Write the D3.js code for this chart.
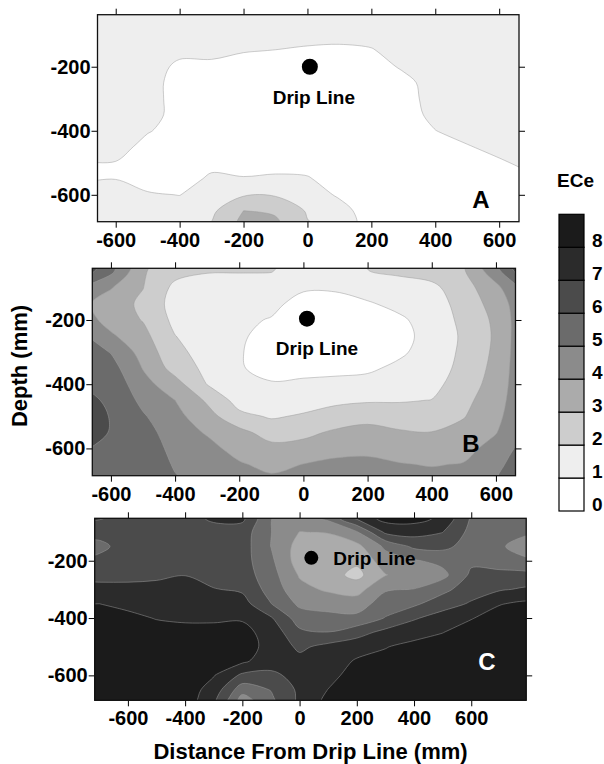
<!DOCTYPE html>
<html>
<head>
<meta charset="utf-8">
<script src="https://cdn.jsdelivr.net/npm/d3@7"></script>
<style>
  body { margin: 0; background: #fff; }
  text { font-family: "Liberation Sans", Arial, Helvetica, sans-serif; font-weight: bold; }
</style>
</head>
<body>
<div id="chart"></div>
<script>
// Grid of sampled ECe values (distance from drip line, depth), mm
var gridX = [-800, -700, -600, -500, -400, -300, -200, -100, 0, 100, 200, 300, 400, 500, 600, 700, 800];
var gridY = [0, -50, -100, -150, -200, -250, -300, -350, -400, -450, -500, -550, -600, -650, -700];

// Panel A: one row per depth in gridY, one value per column in gridX
var eceA = [
  [1.5, 1.5, 1.5, 1.5, 1.5, 1.5, 1.5, 1.5, 1.5, 1.5, 1.5, 1.5, 1.5, 1.5, 1.5, 1.5, 1.5],
  [1.5, 1.5, 1.5, 1.5, 1.5, 1.5, 1.5, 1.5, 1.5, 1.5, 1.5, 1.5, 1.5, 1.5, 1.5, 1.5, 1.5],
  [1.5, 1.5, 1.5, 1.5, 1.5, 1.5, 1.5, 1.47, 1.35, 1.3, 1.41, 1.5, 1.5, 1.5, 1.5, 1.5, 1.5],
  [1.5, 1.5, 1.5, 1.5, 1.27, 1.27, 1.06, 0.97, 0.85, 0.8, 0.91, 1.5, 1.5, 1.5, 1.5, 1.5, 1.5],
  [1.5, 1.5, 1.5, 1.5, 0.77, 0.77, 0.56, 0.5, 0.5, 0.5, 0.5, 1.15, 1.5, 1.5, 1.5, 1.5, 1.5],
  [1.5, 1.5, 1.5, 1.5, 0.5, 0.5, 0.5, 0.5, 0.5, 0.5, 0.5, 0.66, 1.5, 1.5, 1.5, 1.5, 1.5],
  [1.5, 1.5, 1.5, 1.5, 0.5, 0.5, 0.5, 0.5, 0.5, 0.5, 0.5, 0.5, 1.5, 1.5, 1.5, 1.5, 1.5],
  [1.5, 1.5, 1.5, 1.5, 0.5, 0.5, 0.5, 0.5, 0.5, 0.5, 0.5, 0.5, 1.3, 1.5, 1.5, 1.5, 1.5],
  [1.5, 1.5, 1.5, 1.09, 0.5, 0.5, 0.5, 0.5, 0.5, 0.5, 0.5, 0.5, 0.98, 1.42, 1.5, 1.5, 1.5],
  [1.5, 1.5, 1.5, 0.59, 0.5, 0.5, 0.5, 0.5, 0.5, 0.5, 0.5, 0.5, 0.5, 0.92, 1.35, 1.5, 1.5],
  [1.5, 0.98, 0.95, 0.5, 0.5, 0.69, 0.57, 0.65, 0.59, 0.5, 0.5, 0.5, 0.5, 0.5, 0.85, 1.3, 1.5],
  [1.5, 0.95, 0.98, 0.6, 0.5, 1.19, 1.07, 1.15, 1.09, 0.5, 0.5, 0.5, 0.5, 0.5, 0.5, 0.8, 1.1],
  [1.5, 1.3, 1.5, 1.1, 0.98, 1.5, 1.9, 1.9, 1.5, 0.87, 0.5, 0.5, 0.5, 0.5, 0.5, 0.5, 0.6],
  [1.5, 1.5, 1.5, 1.5, 1.48, 1.8, 3.0, 2.9, 1.9, 1.37, 0.5, 0.5, 0.5, 0.5, 0.5, 0.5, 0.5],
  [1.5, 1.5, 1.5, 1.5, 1.5, 2.1, 3.3, 3.2, 2.1, 1.6, 0.5, 0.5, 0.5, 0.5, 0.5, 0.5, 0.5]
];

// Panel B
var eceB = [
  [7.4, 7.2, 5.6, 3.2, 2.6, 2.5, 2.5, 2.3, 1.6, 1.7, 2.1, 2.4, 2.6, 3.05, 5.4, 7.2, 7.4],
  [7.0, 6.7, 5.2, 3.1, 2.3, 2.05, 2.05, 2.02, 1.5, 1.45, 1.98, 2.15, 2.4, 2.9, 4.6, 7.0, 7.2],
  [5.6, 5.1, 4.05, 3.02, 1.75, 1.5, 1.4, 1.5, 1.1, 1.1, 1.4, 1.6, 1.75, 2.6, 3.7, 5.5, 6.0],
  [4.6, 4.3, 3.5, 2.8, 1.6, 1.4, 1.25, 1.2, 0.7, 0.7, 0.9, 1.25, 1.5, 2.4, 3.4, 4.9, 5.2],
  [4.8, 4.6, 3.6, 2.95, 1.75, 1.4, 1.15, 0.95, 0.5, 0.5, 0.6, 0.85, 1.4, 2.25, 3.2, 4.9, 5.1],
  [5.4, 5.3, 4.15, 3.3, 2.02, 1.45, 1.1, 0.75, 0.4, 0.45, 0.5, 0.7, 1.35, 2.15, 3.15, 4.95, 5.1],
  [5.8, 5.7, 4.95, 3.6, 2.3, 1.55, 1.05, 0.7, 0.5, 0.55, 0.6, 0.85, 1.4, 2.2, 3.2, 4.95, 5.1],
  [6.0, 5.9, 5.4, 3.95, 2.6, 1.75, 1.05, 0.8, 0.75, 0.8, 0.85, 1.2, 1.5, 2.3, 3.3, 4.95, 5.1],
  [6.1, 6.0, 5.7, 4.35, 3.4, 1.97, 1.15, 1.05, 1.15, 1.2, 1.3, 1.6, 1.7, 2.5, 3.4, 4.95, 5.1],
  [6.4, 6.3, 5.85, 4.75, 4.0, 2.85, 1.6, 1.5, 1.6, 1.8, 1.9, 1.92, 2.02, 2.75, 3.55, 4.95, 5.1],
  [6.7, 6.6, 5.95, 5.1, 4.3, 3.4, 2.25, 1.9, 2.1, 2.4, 2.6, 2.5, 2.5, 2.95, 3.75, 4.9, 5.1],
  [6.6, 6.5, 5.95, 5.4, 4.5, 3.9, 3.3, 2.55, 2.75, 3.15, 3.4, 3.1, 3.02, 3.3, 3.95, 5.1, 5.4],
  [6.2, 6.1, 5.8, 5.6, 4.7, 4.3, 3.65, 3.3, 3.35, 3.7, 3.8, 3.6, 3.5, 3.7, 4.35, 5.5, 5.8],
  [5.9, 5.8, 5.6, 5.7, 4.9, 4.5, 4.1, 3.75, 4.02, 4.2, 4.2, 4.05, 3.95, 4.05, 4.7, 5.8, 6.0],
  [5.8, 5.7, 5.6, 5.7, 5.1, 4.6, 4.4, 4.2, 4.4, 4.5, 4.5, 4.4, 4.3, 4.3, 4.95, 6.0, 6.1]
];

// Panel C
var eceC = [
  [7.4, 7.4, 6.8, 6.5, 6.5, 7.4, 7.4, 5.3, 4.6, 5.4, 7.4, 8.6, 8.6, 7.9, 6.1, 5.8, 5.7],
  [7.1, 7.1, 6.6, 6.5, 6.5, 7.25, 7.25, 5.02, 4.5, 5.25, 7.25, 8.4, 8.4, 7.8, 5.9, 5.6, 5.5],
  [6.5, 6.4, 6.5, 6.5, 6.5, 6.5, 6.5, 5.02, 3.98, 4.05, 4.9, 7.2, 7.4, 7.02, 5.7, 5.3, 5.1],
  [5.6, 5.7, 6.5, 6.5, 6.5, 6.5, 6.45, 4.98, 3.6, 3.5, 3.7, 5.2, 6.2, 6.25, 5.6, 5.1, 4.6],
  [6.0, 6.3, 6.5, 6.55, 6.6, 6.5, 6.4, 5.2, 3.5, 3.3, 3.2, 4.5, 4.9, 5.3, 5.8, 5.5, 5.1],
  [6.7, 6.75, 6.75, 6.82, 6.98, 6.6, 6.5, 5.4, 3.9, 3.4, 2.7, 3.95, 4.5, 4.7, 6.2, 6.3, 6.3],
  [7.3, 7.25, 7.25, 7.3, 7.4, 7.05, 6.85, 5.6, 4.3, 3.85, 3.6, 4.9, 5.02, 5.7, 6.6, 6.9, 7.15],
  [7.9, 8.0, 7.75, 7.6, 7.6, 7.5, 7.4, 6.02, 4.8, 4.6, 4.5, 5.5, 5.8, 6.6, 7.1, 7.95, 8.2],
  [8.3, 8.5, 8.25, 7.95, 7.85, 7.9, 7.9, 7.1, 5.5, 5.3, 5.25, 6.05, 6.9, 7.4, 7.95, 8.4, 8.5],
  [8.5, 8.5, 8.5, 8.4, 8.3, 8.2, 8.3, 7.6, 6.2, 6.02, 6.6, 7.3, 7.6, 7.98, 8.4, 8.5, 8.5],
  [8.5, 8.5, 8.5, 8.5, 8.5, 8.4, 8.4, 7.7, 6.8, 7.3, 7.6, 7.95, 8.3, 8.4, 8.5, 8.5, 8.5],
  [8.5, 8.5, 8.5, 8.5, 8.5, 8.4, 8.2, 7.4, 7.3, 7.5, 8.1, 8.3, 8.5, 8.5, 8.5, 8.5, 8.5],
  [8.5, 8.5, 8.5, 8.5, 8.5, 8.05, 6.8, 6.8, 7.3, 7.7, 8.4, 8.5, 8.5, 8.5, 8.5, 8.5, 8.5],
  [8.5, 8.5, 8.5, 8.5, 8.5, 7.6, 5.4, 6.05, 7.2, 8.02, 8.5, 8.5, 8.5, 8.5, 8.5, 8.5, 8.5],
  [8.5, 8.5, 8.5, 8.5, 8.5, 7.1, 4.2, 5.6, 7.2, 8.3, 8.5, 8.5, 8.5, 8.5, 8.5, 8.5, 8.5]
];

// drip line position in each panel (x, depth)
var dripLine = [[7.5, -200], [11, -196], [41, -190]];

var levels = [0, 1, 2, 3, 4, 5, 6, 7, 8, 9];
var bandColors = ["#ffffff", "#eeeeee", "#cdcdcd", "#ababab", "#8b8b8b", "#6b6b6b", "#4b4b4b", "#2b2b2b", "#1b1b1b"];
var xTicks = [-600, -400, -200, 0, 200, 400, 600];
var yTicks = [-200, -400, -600];
var legendTicks = [0, 1, 2, 3, 4, 5, 6, 7, 8];

// layout of the three panels (pixels) and their axis ranges
var panels = [
  {id: "A", ece: eceA, left: 97.5, right: 519, top: 14.7, bottom: 221.7, xDomain: [-657, 662], yDomain: [-37.5, -684],
   r: 8, labelDx: 4, labelDy: 37, anchor: "middle", letterX: 481, letterY: 208, letterFill: "#000"},
  {id: "B", ece: eceB, left: 92.3, right: 515.5, top: 268.3, bottom: 475.7, xDomain: [-658, 661], yDomain: [-39, -685],
   r: 8, labelDx: 10, labelDy: 36, anchor: "middle", letterX: 471, letterY: 452, letterFill: "#000"},
  {id: "C", ece: eceC, left: 94.7, right: 526.2, top: 518.3, bottom: 700.3, xDomain: [-716, 792], yDomain: [-52, -687],
   r: 7, labelDx: 22, labelDy: 7, anchor: "start", letterX: 487, letterY: 670, letterFill: "#fff"}
];

var svg = d3.select("#chart")
  .append("svg")
  .attr("width", 604)
  .attr("height", 764);

var contourGen = d3.contours()
  .size([gridX.length, gridY.length])
  .thresholds(levels.slice(1, 9));

// grid coordinates -> mm (value i sits at i + 0.5)
var gxScale = d3.scaleLinear().domain([0.5, gridX.length - 0.5]).range([gridX[0], gridX[gridX.length - 1]]);
var gyScale = d3.scaleLinear().domain([0.5, gridY.length - 0.5]).range([gridY[0], gridY[gridY.length - 1]]);

function styleAxis(sel) {
  sel.select(".domain").remove();
  sel.attr("font-family", null).attr("font-size", null);
  sel.selectAll(".tick line").attr("stroke", "#000");
  sel.selectAll(".tick text").attr("fill", "#000").style("font-size", "20px");
}

panels.forEach(function(p, i) {
  var x = d3.scaleLinear().domain(p.xDomain).range([p.left, p.right]);
  var y = d3.scaleLinear().domain(p.yDomain).range([p.top, p.bottom]);

  svg.append("clipPath").attr("id", "clip" + p.id)
    .append("rect")
    .attr("x", p.left).attr("y", p.top)
    .attr("width", p.right - p.left).attr("height", p.bottom - p.top);

  var plot = svg.append("g").attr("clip-path", "url(#clip" + p.id + ")");
  plot.append("rect")
    .attr("x", p.left).attr("y", p.top)
    .attr("width", p.right - p.left).attr("height", p.bottom - p.top)
    .attr("fill", bandColors[0]);

  var ring = d3.line()
    .x(function(d) { return x(gxScale(d[0])); })
    .y(function(d) { return y(gyScale(d[1])); })
    .curve(d3.curveCatmullRomClosed.alpha(0.5));

  var bands = contourGen(p.ece.flat());
  plot.selectAll("path.band")
    .data(bands)
    .join("path")
    .attr("class", "band")
    .attr("d", function(c) {
      return c.coordinates.map(function(poly) {
        return poly.map(function(r) { return ring(r.slice(0, -1)); }).join("");
      }).join("");
    })
    .attr("fill", function(c, k) { return bandColors[k + 1]; })
    .attr("fill-rule", "evenodd")
    .attr("stroke", "#9c9c9c")
    .attr("stroke-width", 0.5);

  // drip line marker
  var d = dripLine[i];
  plot.append("circle")
    .attr("cx", x(d[0])).attr("cy", y(d[1]))
    .attr("r", p.r).attr("fill", "#000");
  plot.append("text")
    .attr("x", x(d[0]) + p.labelDx).attr("y", y(d[1]) + p.labelDy)
    .attr("text-anchor", p.anchor)
    .style("font-size", "19px")
    .attr("fill", "#000")
    .text("Drip Line");

  plot.append("text")
    .attr("x", p.letterX).attr("y", p.letterY)
    .attr("text-anchor", "middle")
    .style("font-size", "24px")
    .attr("fill", p.letterFill)
    .text(p.id);

  // axes
  svg.append("g")
    .attr("transform", "translate(0," + p.bottom + ")")
    .call(d3.axisBottom(x).tickValues(xTicks).tickSize(6).tickPadding(5).tickFormat(function(v) { return String(v); }))
    .call(styleAxis);
  svg.append("g")
    .attr("transform", "translate(0," + p.top + ")")
    .call(d3.axisTop(x).tickValues(xTicks).tickSize(6).tickFormat(""))
    .call(styleAxis);
  svg.append("g")
    .attr("transform", "translate(" + p.left + ",0)")
    .call(d3.axisLeft(y).tickValues(yTicks).tickSize(6).tickPadding(1).tickFormat(function(v) { return String(v); }))
    .call(styleAxis);
  svg.append("g")
    .attr("transform", "translate(" + p.right + ",0)")
    .call(d3.axisRight(y).tickValues(yTicks).tickSize(6).tickFormat(""))
    .call(styleAxis);

  svg.append("rect")
    .attr("x", p.left).attr("y", p.top)
    .attr("width", p.right - p.left).attr("height", p.bottom - p.top)
    .attr("fill", "none")
    .attr("stroke", "#111")
    .attr("stroke-width", 1.3);
});

// axis titles
svg.append("text")
  .attr("transform", "translate(27,366) rotate(-90)")
  .attr("text-anchor", "middle")
  .style("font-size", "22px")
  .text("Depth (mm)");

svg.append("text")
  .attr("x", 310.5).attr("y", 759)
  .attr("text-anchor", "middle")
  .style("font-size", "22px")
  .text("Distance From Drip Line (mm)");

// colour bar
var cb = d3.scaleLinear().domain([0, 9]).range([511, 214.3]);
var legend = svg.append("g");
legend.selectAll("rect")
  .data(levels.slice(0, 9))
  .join("rect")
  .attr("x", 559).attr("width", 25)
  .attr("y", function(v) { return cb(v + 1); })
  .attr("height", function(v) { return cb(v) - cb(v + 1); })
  .attr("fill", function(v) { return bandColors[v]; })
  .attr("stroke", "#000")
  .attr("stroke-width", 1.2);
legend.selectAll("text.lab")
  .data(legendTicks)
  .join("text")
  .attr("class", "lab")
  .attr("x", 592)
  .attr("y", function(v) { return cb(v) - 0.5; })
  .style("font-size", "19px")
  .text(function(v) { return v; });
legend.append("text")
  .attr("x", 575.5).attr("y", 187)
  .attr("text-anchor", "middle")
  .style("font-size", "19px")
  .text("ECe");
</script>
</body>
</html>
